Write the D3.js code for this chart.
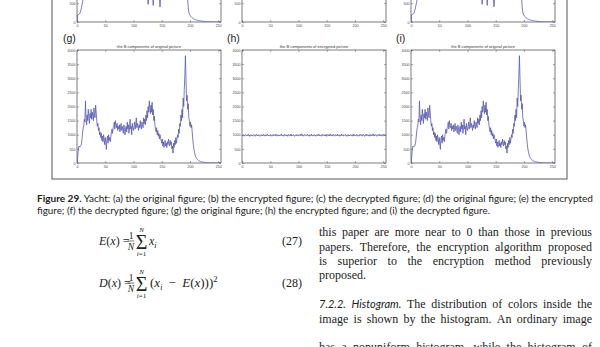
<!DOCTYPE html>
<html>
<head>
<meta charset="utf-8">
<script src="https://cdn.jsdelivr.net/npm/d3@7"></script>
<style>
  body { margin: 0; background: #fff; }
  svg { display: block; }
</style>
</head>
<body>
<script>
// histogram x ticks and y ticks
const xTicks = [0, 50, 100, 150, 200, 250];
const yTicksLow = [0, 500, 1000, 1500, 2000, 2500, 3000, 3500, 4000];
const yTicksUp = [0, 500, 1000, 1500, 2000, 2500, 3000];

// B component of original picture (also the decrypted one), bins 0..255
const bOrig = [
  0, 150, 420, 580, 560, 600, 590, 620, 700, 880,
  1100, 1250, 1320, 1550, 1450, 2200, 1600, 1350, 1700, 1500,
  1900, 1650, 1400, 1750, 1600, 1900, 1550, 1800, 1650, 1500,
  1950, 1700, 1600, 2050, 1800, 1500, 1300, 1400, 1150, 1250,
  1000, 1100, 900, 1050, 800, 950, 750, 1000, 850, 650,
  900, 700, 480, 850, 950, 700, 1000, 800, 900, 750,
  950, 1100, 1200, 1050, 1250, 1300, 1450, 1200, 1500, 1350,
  1250, 1400, 1150, 1300, 1200, 1350, 1100, 1250, 1400, 1150,
  1300, 1200, 1050, 1350, 1250, 1000, 1200, 1300, 1100, 1450,
  1200, 1350, 1050, 1250, 1550, 1200, 1300, 1000, 1400, 1250,
  1150, 1300, 1450, 1200, 1350, 1600, 1250, 1400, 1300, 1150,
  1350, 1250, 1500, 1300, 1200, 1450, 1350, 1250, 1600, 1400,
  1550, 1350, 1700, 1500, 1850, 1600, 2000, 1800, 2200, 1950,
  1750, 2050, 1800, 2150, 1700, 1900, 1500, 1650, 1350, 1200,
  1100, 1250, 1000, 1150, 950, 1050, 850, 1000, 900, 800,
  700, 850, 600, 750, 550, 650, 800, 600, 700, 550,
  750, 650, 850, 700, 600, 800, 650, 750, 500, 600,
  350, 700, 550, 800, 650, 900, 700, 850, 1000, 900,
  1200, 1050, 1400, 1300, 1700, 1500, 1900, 1600, 2300, 2000,
  2600, 3100, 3800, 3000, 2200, 2400, 1900, 2100, 1600, 1500,
  1300, 1450, 1250, 1350, 1100, 850, 650, 500, 380, 300,
  230, 190, 160, 130, 110, 95, 80, 70, 60, 52,
  45, 40, 35, 30, 28, 25, 22, 20, 18, 15,
  14, 12, 10, 9, 8, 7, 6, 5, 5, 4,
  4, 3, 3, 3, 2, 2, 2, 1, 1, 1,
  1, 0, 0, 0, 0, 0
];

// B component of encrypted picture
const bEnc = [
  985, 960, 1002, 971, 948, 990, 1010, 966, 979, 955, 998, 1021, 963, 987, 940, 975,
  1005, 968, 992, 951, 984, 1012, 970, 946, 996, 978, 1015, 958, 989, 962, 1001, 974,
  943, 981, 1008, 965, 993, 957, 1018, 972, 986, 950, 1003, 969, 982, 1025, 961, 977,
  952, 994, 967, 1009, 975, 944, 988, 1013, 959, 980, 997, 964, 1020, 971, 949, 990,
  1006, 962, 983, 954, 1000, 976, 1030, 968, 991, 947, 985, 1011, 958, 973, 1004, 966,
  989, 945, 1016, 979, 961, 998, 970, 1024, 953, 987, 966, 1007, 976, 942, 995, 983,
  960, 1012, 974, 950, 1001, 968, 988, 1019, 957, 980, 1035, 964, 992, 948, 978, 1009,
  971, 955, 997, 983, 1014, 962, 986, 944, 1003, 975, 959, 1022, 969, 990, 951, 982,
  1010, 967, 993, 946, 979, 1005, 958, 984, 1027, 963, 996, 972, 949, 988, 1015, 961,
  977, 1002, 954, 990, 969, 1018, 943, 981, 1008, 966, 994, 957, 1031, 974, 986, 952,
  999, 965, 1013, 978, 947, 992, 1006, 960, 985, 1020, 956, 973, 1001, 945, 989, 968,
  1023, 959, 982, 1004, 950, 976, 996, 1016, 962, 987, 941, 979, 1011, 964, 993, 955,
  984, 1007, 970, 948, 1000, 961, 1028, 975, 953, 991, 967, 1009, 980, 946, 997, 972,
  958, 1019, 983, 966, 1003, 951, 988, 1012, 969, 942, 995, 977, 1024, 960, 986, 1005,
  963, 990, 947, 1014, 974, 998, 956, 981, 1032, 968, 1001, 953, 985, 1010, 970, 944,
  992, 976, 1008, 959, 1017, 980, 965, 999, 949, 987, 1021, 962, 973, 1006, 955, 1000
];

// G component (row above, only its bottom part is on the page)
const gOrig = [
  0, 190, 195, 200, 210, 230, 270, 320, 390, 460,
  540, 640, 760, 900, 1050, 1200, 1350, 1500, 1650, 1800,
  1900, 2050, 1850, 2000, 1800, 1950, 1750, 1900, 1700, 1800,
  1600, 1700, 1500, 1550, 1400, 1300, 1250, 1150, 1100, 1000,
  950, 900, 850, 800, 850, 780, 820, 760, 800, 740,
  780, 720, 800, 760, 840, 800, 900, 860, 950, 1000,
  1050, 1100, 1150, 1200, 1250, 1200, 1300, 1250, 1350, 1300,
  1250, 1300, 1200, 1280, 1220, 1300, 1180, 1250, 1200, 1150,
  1200, 1100, 1150, 1080, 1120, 1050, 1100, 1000, 1050, 980,
  1000, 950, 980, 920, 950, 900, 930, 880, 900, 860,
  880, 840, 860, 820, 850, 800, 830, 780, 810, 760,
  790, 740, 770, 720, 750, 700, 730, 680, 710, 660,
  690, 650, 700, 660, 720, 680, 470, 700, 740, 720,
  760, 710, 690, 650, 680, 440, 690, 740, 780, 760,
  720, 700, 680, 660, 650, 640, 630, 400, 650, 700,
  760, 820, 800, 900, 950, 1000, 980, 1100, 1150, 1250,
  1350, 1300, 1420, 1380, 1500, 1450, 1560, 1520, 1600, 1650,
  1700, 1650, 1780, 1750, 1850, 1900, 1880, 2000, 2100, 2050,
  2200, 2150, 2300, 2400, 2350, 2500, 2650, 2800, 2950, 3000,
  2900, 2600, 2100, 1600, 1200, 900, 600, 380, 260, 210,
  180, 160, 140, 125, 110, 100, 90, 80, 72, 65,
  60, 55, 50, 46, 42, 38, 35, 32, 30, 28,
  26, 24, 22, 20, 18, 16, 14, 12, 11, 10,
  9, 8, 7, 6, 5, 5, 4, 4, 3, 3,
  3, 2, 2, 2, 2, 1, 1, 1, 1, 1,
  1, 0, 0, 0, 0, 0
];

const w = 600;
const h = 347;
const sans = "'Liberation Sans', Arial, sans-serif";
const serif = "'Liberation Serif', 'Times New Roman', serif";
const lineColor = "#5858b2";

const svg = d3.select("body").append("svg").attr("width", w).attr("height", h);
svg.append("rect").attr("width", w).attr("height", h).attr("fill", "#fff");

// figure box
svg.append("rect")
  .attr("x", 52).attr("y", -10)
  .attr("width", 515).attr("height", 189)
  .attr("fill", "none").attr("stroke", "#555").attr("stroke-width", 1);

let clipId = 0;
function panel(p) {
  const x = d3.scaleLinear().domain([0, 255]).range([p.left, p.right]);
  const y = d3.scaleLinear().domain([0, p.yMax]).range([p.bottom, p.top]);
  const g = svg.append("g");
  const fmt = d3.format("d");

  const tidy = (a) => {
    a.attr("font-size", 3.6).attr("font-family", sans);
    a.select(".domain").remove();
    a.selectAll("line").attr("stroke", "#555").attr("stroke-width", 0.5);
    a.selectAll("text").attr("fill", "#444");
  };

  g.append("g").attr("transform", `translate(0,${p.bottom})`)
    .call(d3.axisBottom(x).tickValues(xTicks).tickSize(-2).tickPadding(2).tickFormat(fmt)).call(tidy);
  g.append("g").attr("transform", `translate(0,${p.top})`)
    .call(d3.axisTop(x).tickValues(xTicks).tickSize(-2).tickFormat("")).call(tidy);
  g.append("g").attr("transform", `translate(${p.left},0)`)
    .call(d3.axisLeft(y).tickValues(p.yTicks).tickSize(-2).tickPadding(1.5).tickFormat(fmt)).call(tidy);
  g.append("g").attr("transform", `translate(${p.right},0)`)
    .call(d3.axisRight(y).tickValues(p.yTicks).tickSize(-2).tickFormat("")).call(tidy);

  g.append("rect")
    .attr("x", p.left).attr("y", p.top)
    .attr("width", p.right - p.left).attr("height", p.bottom - p.top)
    .attr("fill", "none").attr("stroke", "#444").attr("stroke-width", 0.7);

  if (p.data) {
    const id = "clip" + (clipId++);
    svg.append("clipPath").attr("id", id).append("rect")
      .attr("x", p.left).attr("y", p.top)
      .attr("width", p.right - p.left).attr("height", p.bottom - p.top);
    g.append("path")
      .datum(p.data)
      .attr("clip-path", `url(#${id})`)
      .attr("fill", "none")
      .attr("stroke", lineColor)
      .attr("stroke-width", 0.8)
      .attr("d", d3.line().x((d, i) => x(i)).y((d) => y(d)));
  }

  if (p.title) {
    g.append("text")
      .attr("x", (p.left + p.right) / 2).attr("y", p.top - 2.2)
      .attr("text-anchor", "middle")
      .attr("font-family", sans).attr("font-size", 4)
      .attr("fill", "#333")
      .text(p.title);
  }
  if (p.label) {
    g.append("text")
      .attr("x", p.labelX).attr("y", 42)
      .attr("font-family", sans).attr("font-size", 10.5)
      .attr("fill", "#222")
      .text(p.label);
  }
}

// row above (d), (e), (f): only the bottom strip is visible
panel({ left: 77, right: 221, top: -91, bottom: 22, yMax: 3000, yTicks: yTicksUp, data: gOrig });
panel({ left: 242, right: 386, top: -91, bottom: 22, yMax: 3000, yTicks: yTicksUp });
panel({ left: 411, right: 555, top: -91, bottom: 22, yMax: 3000, yTicks: yTicksUp, data: gOrig });

// row (g), (h), (i)
panel({ left: 77, right: 221, top: 50, bottom: 163, yMax: 4000, yTicks: yTicksLow, data: bOrig,
  title: "the B components of original picture", label: "(g)", labelX: 63 });
panel({ left: 242, right: 386, top: 50, bottom: 163, yMax: 4000, yTicks: yTicksLow, data: bEnc,
  title: "the B components of encrypted picture", label: "(h)", labelX: 227 });
panel({ left: 411, right: 555, top: 50, bottom: 163, yMax: 4000, yTicks: yTicksLow, data: bOrig,
  title: "the B components of original picture", label: "(i)", labelX: 396 });

// caption
const capFont = "Lato, 'Open Sans', sans-serif";
const cap1 = svg.append("text").attr("x", 37).attr("y", 202)
  .attr("font-family", capFont).attr("font-size", 10).attr("fill", "#222")
  .attr("textLength", 556).attr("lengthAdjust", "spacingAndGlyphs");
cap1.append("tspan").attr("font-weight", "bold").text("Figure 29.");
cap1.append("tspan").text(" Yacht: (a) the original figure; (b) the encrypted figure; (c) the decrypted figure; (d) the original figure; (e) the encrypted");
svg.append("text").attr("x", 37).attr("y", 214)
  .attr("font-family", capFont).attr("font-size", 10).attr("fill", "#222")
  .attr("textLength", 453).attr("lengthAdjust", "spacingAndGlyphs")
  .text("figure; (f) the decrypted figure; (g) the original figure; (h) the encrypted figure; and (i) the decrypted figure.");

// equations
const eq = svg.append("g").attr("font-family", serif).attr("fill", "#222");
function formula(y0, lhs, tag) {
  const t = eq.append("text").attr("x", 99).attr("y", y0).attr("font-size", 12);
  t.append("tspan").attr("font-style", "italic").text(lhs);
  t.append("tspan").text("(");
  t.append("tspan").attr("font-style", "italic").text("x");
  t.append("tspan").text(") =");
  eq.append("text").attr("x", 131).attr("y", y0 - 6.5).attr("font-size", 9.5).attr("text-anchor", "middle").text("1");
  eq.append("line").attr("x1", 127.5).attr("x2", 134.5).attr("y1", y0 - 4).attr("y2", y0 - 4)
    .attr("stroke", "#222").attr("stroke-width", 0.6);
  eq.append("text").attr("x", 131).attr("y", y0 + 4.5).attr("font-size", 9.5).attr("font-style", "italic").attr("text-anchor", "middle").text("N");
  eq.append("text").attr("x", 141.5).attr("y", y0 + 4).attr("font-size", 20).attr("text-anchor", "middle").text("\u03A3");
  eq.append("text").attr("x", 141.5).attr("y", y0 - 13.5).attr("font-size", 7).attr("font-style", "italic").attr("text-anchor", "middle").text("N");
  const lo = eq.append("text").attr("x", 141.5).attr("y", y0 + 11).attr("font-size", 7).attr("text-anchor", "middle");
  lo.append("tspan").attr("font-style", "italic").text("i");
  lo.append("tspan").text("=1");
  eq.append("text").attr("x", 282).attr("y", y0).attr("font-size", 12).text(tag);
}
formula(245, "E", "(27)");
formula(287, "D", "(28)");
const s1 = eq.append("text").attr("x", 149).attr("y", 245).attr("font-size", 12);
s1.append("tspan").attr("font-style", "italic").text("x");
s1.append("tspan").attr("font-size", 8).attr("font-style", "italic").attr("dy", 2.5).text("i");
const s2 = eq.append("text").attr("x", 150).attr("y", 287).attr("font-size", 13);
s2.append("tspan").text("(");
s2.append("tspan").attr("font-style", "italic").text("x");
s2.append("tspan").attr("font-size", 8).attr("font-style", "italic").attr("dy", 2.5).text("i");
s2.append("tspan").attr("dy", -2.5).attr("dx", 3).text(" \u2212 ");
s2.append("tspan").attr("dx", 3).attr("font-style", "italic").text("E");
s2.append("tspan").text("(");
s2.append("tspan").attr("font-style", "italic").text("x");
s2.append("tspan").text(")))");
s2.append("tspan").attr("font-size", 8.5).attr("dy", -5.5).text("2");

// right column body text
const body = svg.append("g").attr("fill", "#222");
function textLine(words, x0, x1, y, justify) {
  const nodes = words.map((wd) => body.append("text")
    .attr("y", y)
    .attr("font-family", wd.f || serif)
    .attr("font-style", wd.s || null)
    .attr("font-size", wd.z || 12)
    .text(wd.t));
  const widths = nodes.map((n) => n.node().getComputedTextLength());
  const gap = justify ? (x1 - x0 - d3.sum(widths)) / (words.length - 1) : 3;
  let x = x0;
  nodes.forEach((n, i) => { n.attr("x", x); x += widths[i] + gap; });
}
const plain = (s) => s.split(" ").map((t) => ({ t }));
textLine(plain("this paper are more near to 0 than those in previous"), 319, 592, 236, true);
textLine(plain("papers. Therefore, the encryption algorithm proposed"), 319, 592, 250.5, true);
textLine(plain("is superior to the encryption method previously"), 319, 592, 265, true);
textLine(plain("proposed."), 319, 592, 279, false);
textLine([{ t: "7.2.2.", f: capFont, s: "italic", z: 11 }, { t: "Histogram.", f: capFont, s: "italic", z: 11 }]
  .concat(plain("The distribution of colors inside the")), 319, 592, 308, true);
textLine(plain("image is shown by the histogram. An ordinary image"), 319, 592, 322.5, true);
textLine(plain("has a nonuniform histogram, while the histogram of"), 319, 592, 351, true);
</script>
</body>
</html>
